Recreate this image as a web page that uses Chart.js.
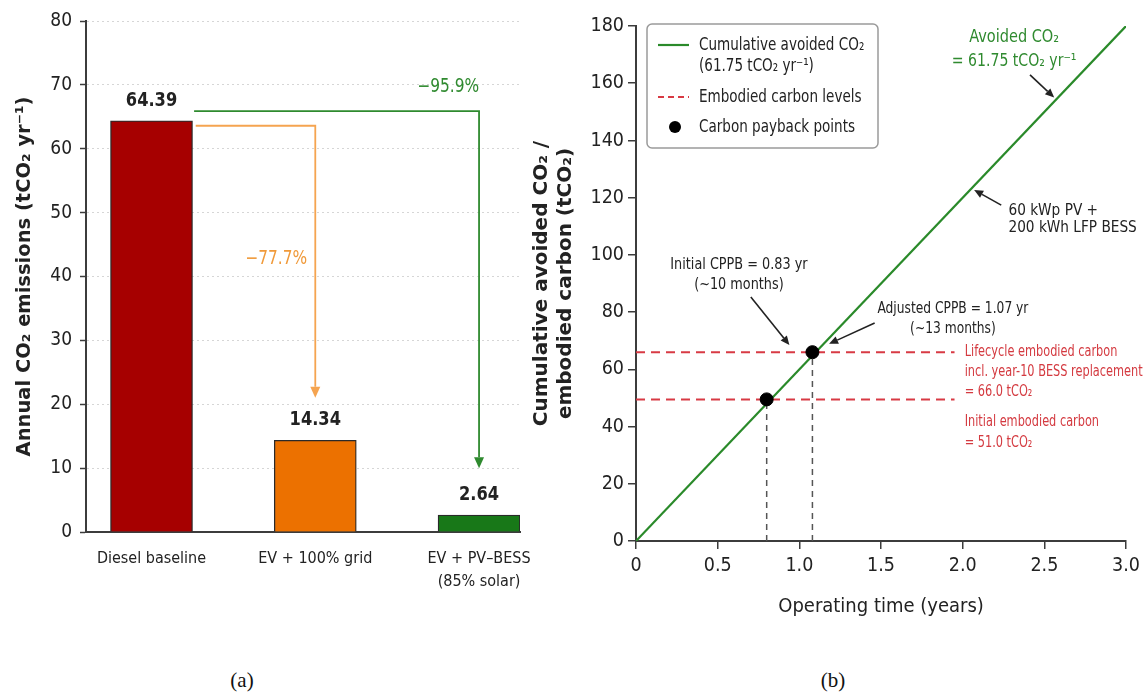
<!DOCTYPE html>
<html>
<head>
<meta charset="utf-8">
<script src="https://cdn.jsdelivr.net/npm/chart.js@4.4.1/dist/chart.umd.min.js"></script>
<style>
  body { margin: 0; background: #fff; width: 1145px; height: 699px; position: relative; overflow: hidden; }
  canvas { position: absolute; top: 0; }
  #barChart { left: 0; }
  #paybackChart { left: 520px; }
  .cap { position: absolute; top: 668px; font: 21px "Liberation Serif", "DejaVu Serif", serif; color: #111; transform: translateX(-50%); }
</style>
</head>
<body>
<canvas id="barChart" width="545" height="640"></canvas>
<canvas id="paybackChart" width="625" height="640"></canvas>
<div class="cap" style="left:242px">(a)</div>
<div class="cap" style="left:833px">(b)</div>
<script>
// (a) annual emissions per scenario, (b) cumulative avoided CO2 vs embodied carbon

// --- panel (a) data
const scenarios = ['Diesel baseline', 'EV + 100% grid', ['EV + PV\u2013BESS', '(85% solar)']];
const annualEmissions = [64.39, 14.34, 2.64];
const reductionLabels = ['\u221277.7%', '\u221295.9%'];

// --- panel (b) data
const operatingYears = [0, 3.0];
const cumulativeAvoided = [0, 180];
const embodiedLevels = [66.0, 49.5];
const levelLineEnd = 1.95;
const paybackYears = [0.8, 1.08];
const paybackValues = [49.5, 66.0];

const NARROW = '"Liberation Sans Narrow", "DejaVu Sans Condensed", "Roboto Condensed", sans-serif';
const TITLE = '"DejaVu Sans", "Liberation Sans", sans-serif';
const TEXT = '#222';
const AXIS = '#3c3c3c';
const barColors = ['#a60000', '#ec7100', '#187818'];

// text squeezed horizontally a bit, the original uses a condensed face
function text(ctx, s, x, y, size, color, align, weight, squeeze) {
    ctx.save();
    ctx.font = (weight || 'normal') + ' ' + size + 'px ' + NARROW;
    ctx.fillStyle = color;
    ctx.textAlign = align || 'center';
    ctx.textBaseline = 'middle';
    ctx.translate(x, y);
    ctx.scale(squeeze || 1, 1);
    ctx.fillText(s, 0, 0);
    ctx.restore();
}

function arrowHead(ctx, x1, y1, x2, y2, len, half) {
    const a = Math.atan2(y2 - y1, x2 - x1);
    const bx = x2 - len * Math.cos(a), by = y2 - len * Math.sin(a);
    ctx.beginPath();
    ctx.moveTo(x2, y2);
    ctx.lineTo(bx + half * Math.sin(a), by - half * Math.cos(a));
    ctx.lineTo(bx - half * Math.sin(a), by + half * Math.cos(a));
    ctx.closePath();
    ctx.fill();
    return [bx, by];
}

function arrow(ctx, x1, y1, x2, y2, color) {
    ctx.strokeStyle = color;
    ctx.fillStyle = color;
    ctx.lineWidth = 1.6;
    const [bx, by] = arrowHead(ctx, x1, y1, x2, y2, 9, 4);
    ctx.beginPath();
    ctx.moveTo(x1, y1);
    ctx.lineTo(bx, by);
    ctx.stroke();
}

// elbow arrows from the diesel bar down to the other scenarios
const reductionArrows = [
    { start: [0.27, 63.6], end: [1, 21], color: '#f5a450', textColor: '#f09a3a', textAt: [0.95, 42.7] },
    { start: [0.26, 65.9], end: [2, 10], color: '#2f8a2f', textColor: '#2f8a2f', textAt: [2.0, 69.6] }
];

const barAnnotations = {
    id: 'barAnnotations',
    afterDatasetsDraw(chart) {
        const { ctx, scales: { x, y } } = chart;
        ctx.save();
        annualEmissions.forEach((v, i) => {
            text(ctx, v.toFixed(2), x.getPixelForValue(i), y.getPixelForValue(v) - 20, 19, TEXT, 'center', 'bold', 0.95);
        });
        reductionArrows.forEach((a, i) => {
            const sx = x.getPixelForValue(a.start[0]), sy = y.getPixelForValue(a.start[1]);
            const ex = x.getPixelForValue(a.end[0]), ey = y.getPixelForValue(a.end[1]);
            ctx.strokeStyle = a.color;
            ctx.fillStyle = a.color;
            ctx.lineWidth = 1.8;
            const [bx, by] = arrowHead(ctx, ex, sy, ex, ey, 11, 5);
            ctx.beginPath();
            ctx.moveTo(sx, sy);
            ctx.lineTo(ex, sy);
            ctx.lineTo(bx, by);
            ctx.stroke();
            text(ctx, reductionLabels[i], x.getPixelForValue(a.textAt[0]), y.getPixelForValue(a.textAt[1]), 19, a.textColor, 'right', 'normal', 0.9);
        });
        ctx.restore();
    }
};

new Chart(document.getElementById('barChart'), {
    type: 'bar',
    data: {
        datasets: [{
            data: annualEmissions.map((v, i) => ({ x: i, y: v })),
            backgroundColor: barColors,
            borderColor: '#2a2a2a',
            borderWidth: 1.3,
            barThickness: 82
        }]
    },
    options: {
        responsive: false,
        animation: false,
        layout: { padding: { top: 21, right: 25, left: 0, bottom: 0 } },
        plugins: { legend: { display: false }, tooltip: { enabled: false } },
        scales: {
            x: {
                type: 'linear',
                offset: false,
                min: -0.4,
                max: 2.25,
                afterBuildTicks: s => { s.ticks = scenarios.map((_, i) => ({ value: i })); },
                afterFit: s => { s.height = 108; },
                ticks: {
                    callback: v => scenarios[Math.round(v)],
                    font: { family: NARROW, size: 16, lineHeight: 1.45 },
                    color: TEXT,
                    padding: 7,
                    maxRotation: 0,
                    autoSkip: false
                },
                grid: { display: false, offset: false },
                border: { color: AXIS, width: 2 }
            },
            y: {
                min: 0,
                max: 80,
                afterFit: s => { s.width = 86; },
                ticks: { stepSize: 10, font: { family: NARROW, size: 19 }, color: TEXT, padding: 8 },
                grid: { color: '#d6d6d6', lineWidth: 1, tickColor: AXIS, tickLength: 6, tickWidth: 1.5 },
                border: { color: AXIS, width: 2, dash: [2, 3] },
                title: {
                    display: true,
                    text: 'Annual CO\u2082 emissions (tCO\u2082 yr\u207B\u00B9)',
                    font: { family: TITLE, size: 19.5, weight: 'bold' },
                    color: TEXT,
                    padding: { top: 13, bottom: 0 }
                }
            }
        }
    },
    plugins: [barAnnotations]
});

// --- panel (b)
const paybackAnnotations = {
    id: 'paybackAnnotations',
    afterDatasetsDraw(chart) {
        const { ctx, chartArea: ca, scales: { x, y } } = chart;
        const px = v => x.getPixelForValue(v), py = v => y.getPixelForValue(v);
        ctx.save();

        // legend box
        const lx = ca.left + 11, ly = ca.top - 2;
        ctx.fillStyle = '#fff';
        ctx.strokeStyle = '#9a9a9a';
        ctx.lineWidth = 1.5;
        ctx.beginPath();
        ctx.roundRect(lx, ly, 231, 124, 5);
        ctx.fill();
        ctx.stroke();
        ctx.lineWidth = 2.2;
        ctx.strokeStyle = '#2a8a2a';
        ctx.beginPath(); ctx.moveTo(lx + 11, ly + 21); ctx.lineTo(lx + 42, ly + 21); ctx.stroke();
        ctx.strokeStyle = '#d83a44';
        ctx.setLineDash([6, 4]);
        ctx.beginPath(); ctx.moveTo(lx + 11, ly + 73); ctx.lineTo(lx + 42, ly + 73); ctx.stroke();
        ctx.setLineDash([]);
        ctx.fillStyle = '#000';
        ctx.beginPath(); ctx.arc(lx + 28, ly + 103, 6, 0, Math.PI * 2); ctx.fill();
        text(ctx, 'Cumulative avoided CO\u2082', lx + 52, ly + 21, 17.5, TEXT, 'left', 'normal', 0.86);
        text(ctx, '(61.75 tCO\u2082 yr\u207B\u00B9)', lx + 52, ly + 42, 17.5, TEXT, 'left', 'normal', 0.86);
        text(ctx, 'Embodied carbon levels', lx + 52, ly + 73, 17.5, TEXT, 'left', 'normal', 0.86);
        text(ctx, 'Carbon payback points', lx + 52, ly + 103, 17.5, TEXT, 'left', 'normal', 0.86);

        // slope label
        text(ctx, 'Avoided CO\u2082', px(2.315), py(175.8), 17, '#2f8a2f', 'center', 'normal', 0.95);
        text(ctx, '= 61.75 tCO\u2082 yr\u207B\u00B9', px(2.315), py(167.4), 17, '#2f8a2f', 'center', 'normal', 0.92);
        arrow(ctx, px(2.412), py(162.9), px(2.56), py(155), '#222');

        text(ctx, '60 kWp PV +', px(2.28), py(115.4), 16, TEXT, 'left', 'normal', 0.95);
        text(ctx, '200 kWh LFP BESS', px(2.28), py(109.4), 16, TEXT, 'left', 'normal', 0.95);
        arrow(ctx, px(2.236), py(117.4), px(2.07), py(122.7), '#222');

        text(ctx, 'Initial CPPB = 0.83 yr', px(0.63), py(96.5), 15.5, TEXT, 'center', 'normal', 0.92);
        text(ctx, '(~10 months)', px(0.63), py(89.5), 15.5, TEXT, 'center', 'normal', 0.92);
        arrow(ctx, px(0.703), py(85.3), px(0.939), py(68.5), '#222');

        text(ctx, 'Adjusted CPPB = 1.07 yr', px(1.94), py(81.1), 15.5, TEXT, 'center', 'normal', 0.88);
        text(ctx, '(~13 months)', px(1.94), py(74.1), 15.5, TEXT, 'center', 'normal', 0.88);
        arrow(ctx, px(1.461), py(76.2), px(1.182), py(68.9), '#222');

        const red = '#d43a40';
        const rs = 0.84;
        text(ctx, 'Lifecycle embodied carbon', px(2.012), py(66.1), 15, red, 'left', 'normal', rs);
        text(ctx, 'incl. year-10 BESS replacement', px(2.012), py(59.1), 15, red, 'left', 'normal', rs);
        text(ctx, '= 66.0 tCO\u2082', px(2.012), py(52.1), 15, red, 'left', 'normal', rs);
        text(ctx, 'Initial embodied carbon', px(2.012), py(41.6), 15, red, 'left', 'normal', rs);
        text(ctx, '= 51.0 tCO\u2082', px(2.012), py(34.3), 15, red, 'left', 'normal', rs);
        ctx.restore();
    }
};

const levelDatasets = embodiedLevels.map(v => ({
    data: [{ x: 0, y: v }, { x: levelLineEnd, y: v }],
    showLine: true,
    borderColor: '#d83a44',
    borderWidth: 2,
    borderDash: [9, 6],
    pointRadius: 0,
    order: 3
}));

const dropDatasets = paybackYears.map((t, i) => ({
    data: [{ x: t, y: 0 }, { x: t, y: paybackValues[i] }],
    showLine: true,
    borderColor: '#555',
    borderWidth: 1.5,
    borderDash: [6, 5],
    pointRadius: 0,
    order: 4
}));

new Chart(document.getElementById('paybackChart'), {
    type: 'scatter',
    data: {
        datasets: [
            {
                data: paybackYears.map((t, i) => ({ x: t, y: paybackValues[i] })),
                backgroundColor: '#000',
                borderColor: '#000',
                pointRadius: 6.5,
                order: 0
            },
            {
                data: operatingYears.map((t, i) => ({ x: t, y: cumulativeAvoided[i] })),
                showLine: true,
                borderColor: '#2a8a2a',
                borderWidth: 2.2,
                pointRadius: 0,
                order: 1
            },
            ...levelDatasets,
            ...dropDatasets
        ]
    },
    options: {
        responsive: false,
        animation: false,
        layout: { padding: { top: 26, right: 14, left: 0, bottom: 0 } },
        plugins: { legend: { display: false }, tooltip: { enabled: false } },
        scales: {
            x: {
                type: 'linear',
                min: 0,
                max: 3,
                afterFit: s => { s.height = 99; },
                ticks: {
                    stepSize: 0.5,
                    callback: v => v === 0 ? '0' : v.toFixed(1),
                    font: { family: NARROW, size: 19.5 },
                    color: TEXT,
                    padding: 5
                },
                grid: { drawOnChartArea: false, color: AXIS, tickLength: 8, lineWidth: 1.5 },
                border: { color: AXIS, width: 2 },
                title: {
                    display: true,
                    text: 'Operating time (years)',
                    font: { family: NARROW, size: 20 },
                    color: TEXT,
                    padding: { top: 0, bottom: 21 }
                }
            },
            y: {
                min: 0,
                max: 180,
                afterFit: s => { s.width = 116; },
                ticks: { stepSize: 20, font: { family: NARROW, size: 19.5 }, color: TEXT, padding: 4 },
                grid: { drawOnChartArea: false, color: AXIS, tickLength: 8, lineWidth: 1.5 },
                border: { color: AXIS, width: 2 },
                title: {
                    display: true,
                    text: ['Cumulative avoided CO\u2082 /', 'embodied carbon (tCO\u2082)'],
                    font: { family: TITLE, size: 20, weight: 'bold', lineHeight: 1.2 },
                    color: TEXT,
                    padding: { top: 10, bottom: 0 }
                }
            }
        }
    },
    plugins: [paybackAnnotations]
});
</script>
</body>
</html>
